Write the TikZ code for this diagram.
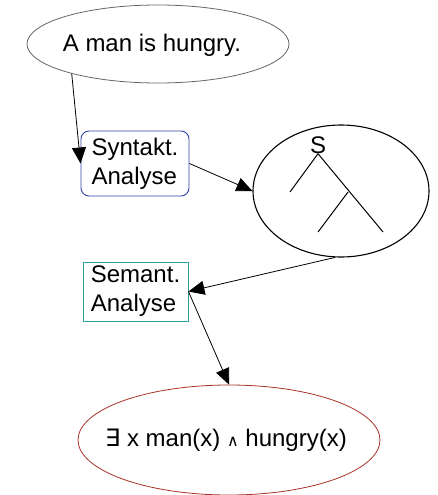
\documentclass[tikz,border=0pt]{standalone}
\usepackage{fontspec}
\setmainfont{Liberation Sans}
\newfontfamily\symfont{DejaVu Sans}
\usetikzlibrary{shapes.geometric,arrows.meta}
\definecolor{boxblue}{HTML}{3344AA}
\definecolor{boxteal}{HTML}{2AA0A0}
\definecolor{ellred}{HTML}{A83228}
\definecolor{ellgray}{HTML}{666666}
\begin{document}
\begin{tikzpicture}[x=1pt,y=-1pt,
  every node/.style={font=\fontsize{24}{29}\selectfont, inner sep=0pt},
  ell/.style={ellipse, draw, line width=0.8pt},
  stepbox/.style={draw, line width=0.9pt, align=left},
  conn/.style={line width=0.8pt, -{Triangle[length=16pt,width=14pt]}},
  treeline/.style={line width=1pt}]
\useasboundingbox (0,0) rectangle (437,495);
\node[ell, draw=ellgray, minimum width=262pt, minimum height=78pt] (top) at (158,44) {};
\node at (152,45) {A man is hungry.};
\node[stepbox, draw=boxblue, rounded corners=8pt, minimum width=108pt, minimum height=65pt] (syn) at (135,163.5) {Syntakt.\\Analyse};
\node[ell, line width=1.1pt, minimum width=176pt, minimum height=132pt] (big) at (341,191) {};
\node (S) at (318,145) {S};
\coordinate (mid) at (348,192);
\coordinate (l1) at (290,192);
\coordinate (l2) at (383,232);
\coordinate (l3) at (318,232);
\draw[treeline] (S.south) -- (l1);
\draw[treeline] (S.south) -- (l2);
\draw[treeline] (mid) -- (l3);
\node[stepbox, draw=boxteal, minimum width=105pt, minimum height=59pt] (sem) at (135.5,291.5) {Semant.\\Analyse};
\node[ell, draw=ellred, minimum width=302pt, minimum height=110pt] (bot) at (229,440) {};
\node at (226,440) {{\symfont ∃} x man(x) {\symfont\fontsize{16}{18}\selectfont ∧} hungry(x)};
\draw[conn] (top.199) -- (syn.west);
\draw[conn] (syn.east) -- (big.west);
\draw[conn] (big.265) -- (sem.east);
\draw[conn] (sem.east) -- (bot.north);
\end{tikzpicture}
\end{document}
